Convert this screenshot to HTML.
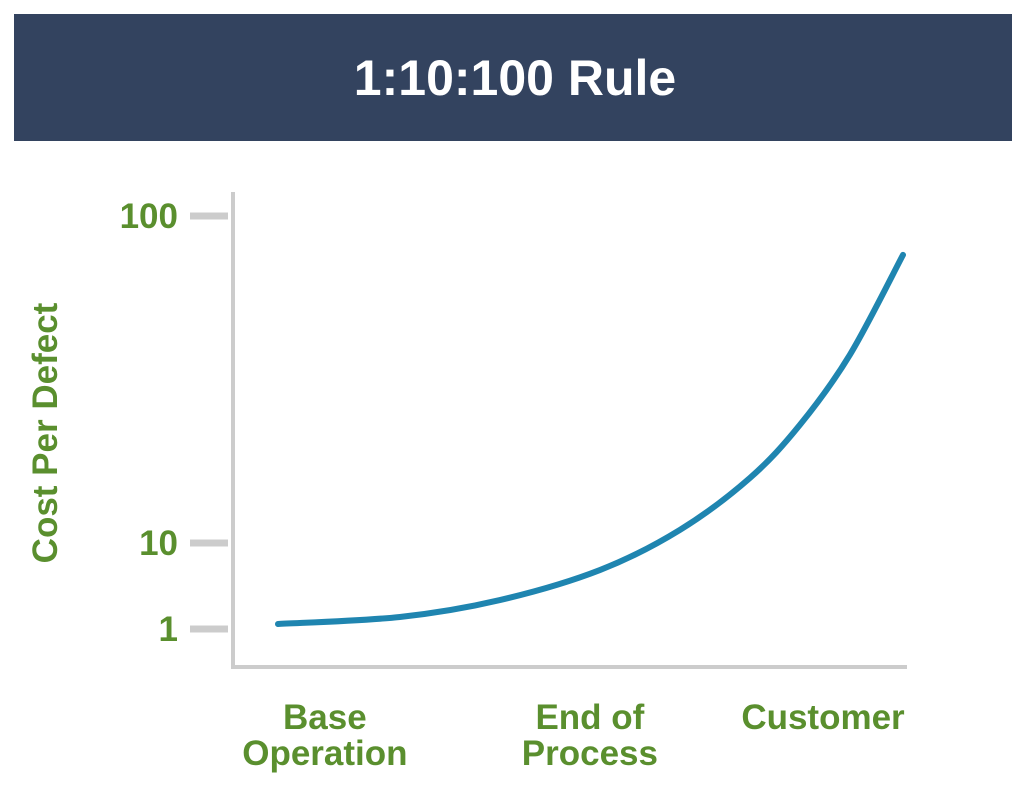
<!DOCTYPE html>
<html><head><meta charset="utf-8"><style>
html,body{margin:0;padding:0;background:#fff;}
body{width:1026px;height:794px;overflow:hidden;font-family:"Liberation Sans",sans-serif;}
</style></head><body>
<svg width="1026" height="794" viewBox="0 0 1026 794">
<rect x="14" y="14" width="998" height="127" fill="#33435f"/>
<text x="515" y="95" text-anchor="middle" fill="#fff" font-size="50" font-weight="bold" font-family="Liberation Sans, sans-serif">1:10:100 Rule</text>
<g id="axes"></g>
<g id="plot"></g>
<text transform="translate(57,433) rotate(-90)" text-anchor="middle" fill="#5a8f2e" font-size="35" font-weight="bold" font-family="Liberation Sans, sans-serif">Cost Per Defect</text>
</svg>
<script>
const yTicks=[1,10,100];
const yTickLabels=["1","10","100"];
const categories=[["Base","Operation"],["End of","Process"],["Customer"]];
const categoryPos=[0.091,0.515,0.888];
const curveX=[0,0.195,0.355,0.515,0.643,0.755,0.835,0.915,1];
const curveY=[1.52,2.26,4.03,7.17,13.6,27.9,42.5,61.8,89.3];
const NS="http://www.w3.org/2000/svg";
const yPix=[629,543,216];
function yScale(v){
  if(v<=10) return yPix[0]+(v-1)/9*(yPix[1]-yPix[0]);
  return yPix[1]+(v-10)/90*(yPix[2]-yPix[1]);
}
function xScale(t){return 278+t*(903-278);}
function catX(t){return 278+t*(903-278)-10;}
function mk(tag,attrs,parent){const e=document.createElementNS(NS,tag);for(const k in attrs)e.setAttribute(k,attrs[k]);parent.appendChild(e);return e;}
const axes=document.getElementById('axes');
const ya=mk('line',{x1:233,y1:192,x2:233,y2:669,stroke:'#cccccc','stroke-width':4},axes);


const xa=mk('line',{x1:231,y1:667,x2:907,y2:667,stroke:'#cccccc','stroke-width':4},axes);


yTicks.forEach((v,i)=>{
  const y=yScale(v);
  const t=mk('line',{x1:190,y1:y,x2:228,y2:y,stroke:'#cccccc','stroke-width':7},axes);
  
  
  const l=mk('text',{x:178,y:y+12,'text-anchor':'end',fill:'#5a8f2e','font-size':35,'font-weight':'bold'},axes);
  l.textContent=yTickLabels[i];
  
  
});
categories.forEach((c,i)=>{
  const x=catX(categoryPos[i]);
  const t=mk('text',{x:x,y:729,'text-anchor':'middle',fill:'#5a8f2e','font-size':35,'font-weight':'bold'},axes);
  c.forEach((line,j)=>{const s=mk('tspan',{x:x,dy:j?36:0},t);s.textContent=line;});
  
  
});
const pts=curveX.map((t,i)=>[xScale(t),yScale(curveY[i])]);
let d='M'+pts[0][0]+','+pts[0][1];
for(let i=0;i<pts.length-1;i++){
  const p0=pts[Math.max(0,i-1)],p1=pts[i],p2=pts[i+1],p3=pts[Math.min(pts.length-1,i+2)];
  const c1=[p1[0]+(p2[0]-p0[0])/6,p1[1]+(p2[1]-p0[1])/6];
  const c2=[p2[0]-(p3[0]-p1[0])/6,p2[1]-(p3[1]-p1[1])/6];
  d+=' C'+c1[0]+','+c1[1]+' '+c2[0]+','+c2[1]+' '+p2[0]+','+p2[1];
}
const path=mk('path',{d:d,fill:'none',stroke:'#1f85b0','stroke-width':6,'stroke-linecap':'round'},document.getElementById('plot'));


</script>
</body></html>
